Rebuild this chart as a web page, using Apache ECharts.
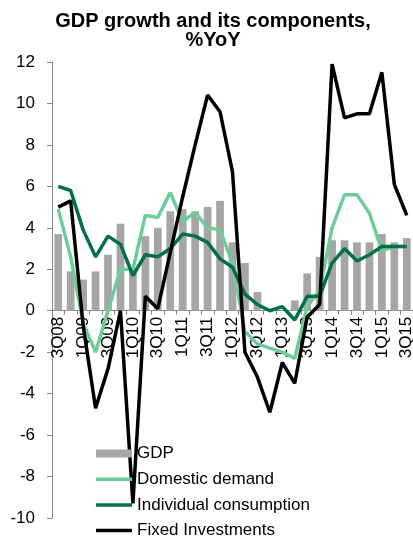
<!DOCTYPE html>
<html>
<head>
<meta charset="utf-8">
<script src="https://cdn.jsdelivr.net/npm/echarts@6.0.0/dist/echarts.min.js"></script>
<style>
  html, body { margin: 0; padding: 0; background: #fff; }
  #chart { width: 413px; height: 538px; }
</style>
</head>
<body>
<div id="chart"></div>
<script>
// quarters, 3Q08 .. 3Q15
const quarters = ['3Q08', '4Q08', '1Q09', '2Q09', '3Q09', '4Q09', '1Q10', '2Q10', '3Q10', '4Q10',
  '1Q11', '2Q11', '3Q11', '4Q11', '1Q12', '2Q12', '3Q12', '4Q12', '1Q13', '2Q13',
  '3Q13', '4Q13', '1Q14', '2Q14', '3Q14', '4Q14', '1Q15', '2Q15', '3Q15'];

// %YoY
const gdp = [3.7, 1.9, 1.5, 1.9, 2.7, 4.2, 2.0, 3.6, 4.0, 4.8,
  4.9, 4.8, 5.0, 5.3, 3.3, 2.3, 0.9, 0.0, 0.0, 0.5,
  1.8, 2.6, 3.4, 3.4, 3.3, 3.3, 3.7, 3.3, 3.5];
const domesticDemand = [4.9, 2.6, -0.6, -2.0, 0.0, 2.0, 2.0, 4.6, 4.5, 5.7,
  4.3, 4.75, 4.0, 3.9, 2.3, -1.0, -1.6, -1.8, -2.0, -2.3,
  0.2, 1.0, 4.0, 5.6, 5.6, 4.7, 2.9, 3.1, 3.1];
const consumption = [6.0, 5.8, 3.9, 2.6, 3.6, 3.2, 1.7, 2.7, 2.6, 3.0,
  3.7, 3.6, 3.3, 2.5, 2.1, 0.8, 0.3, 0.0, 0.2, -0.45,
  0.7, 0.7, 2.3, 3.0, 2.4, 2.7, 3.1, 3.1, 3.1];
const investment = [5.0, 5.3, -0.7, -4.7, -2.8, 0.0, -9.3, 0.7, 0.1, 2.8,
  5.5, 8.0, 10.4, 9.6, 6.7, -2.0, -3.2, -4.9, -2.5, -3.5,
  -0.3, 0.3, 11.9, 9.3, 9.5, 9.5, 11.5, 6.1, 4.6];

const yMin = -10;
const yMax = 12;

const FONT = '"Liberation Sans", Arial, sans-serif';
const AXIS_GREY = '#868686';
const LINE_ICON = 'path://M0,0L36,0L36,3.5L0,3.5Z';

const GRID_TOP = 62;
const GRID_BOTTOM = 20;
const CHART_H = 538;

// the category axis sits on y = 0; v6 leaves the labels at the grid edge
// with onZero, so shift the whole axis up instead
const plotH = CHART_H - GRID_TOP - GRID_BOTTOM;
const zeroShift = -plotH * (0 - yMin) / (yMax - yMin);

const chart = echarts.init(document.getElementById('chart'));

const line = (name, data, color) => ({
  name,
  type: 'line',
  data,
  symbol: 'none',
  lineStyle: { color, width: 3.5 },
  itemStyle: { color },
});

chart.setOption({
  animation: false,
  textStyle: { fontFamily: FONT },
  title: {
    text: 'GDP growth and its components,\n%YoY',
    left: 208,
    textAlign: 'center',
    top: 7,
    textStyle: { fontSize: 20, lineHeight: 19, fontWeight: 'bold', color: '#000', fontFamily: FONT },
  },
  legend: {
    orient: 'vertical',
    left: 96,
    top: 445,
    height: 120,
    padding: 0,
    itemGap: 8.7,
    itemWidth: 36,
    itemHeight: 8,
    textStyle: { fontSize: 17, color: '#000', fontFamily: FONT },
    data: [
      { name: 'GDP', icon: 'rect' },
      { name: 'Domestic demand', icon: LINE_ICON },
      { name: 'Individual consumption', icon: LINE_ICON },
      { name: 'Fixed Investments', icon: LINE_ICON },
    ],
  },
  grid: { left: 52, right: 0, top: GRID_TOP, bottom: GRID_BOTTOM, outerBoundsMode: 'none' },
  xAxis: {
    type: 'category',
    data: quarters,
    offset: zeroShift,
    axisLine: { onZero: false, lineStyle: { color: AXIS_GREY, width: 1 } },
    axisTick: { show: true, interval: 0, length: 4, lineStyle: { color: AXIS_GREY } },
    axisLabel: { interval: 1, rotate: 90, fontSize: 17, color: '#000', margin: 6 },
  },
  yAxis: {
    type: 'value',
    min: yMin,
    max: yMax,
    interval: 2,
    splitLine: { show: false },
    axisLine: { show: true, lineStyle: { color: AXIS_GREY, width: 1 } },
    axisTick: { show: true, length: 5, lineStyle: { color: AXIS_GREY } },
    axisLabel: { fontSize: 17, color: '#000', margin: 17 },
  },
  series: [
    {
      name: 'GDP',
      type: 'bar',
      data: gdp,
      barCategoryGap: '38%',
      itemStyle: { color: '#a6a6a6' },
    },
    line('Domestic demand', domesticDemand, '#6dcc98'),
    line('Individual consumption', consumption, '#00704a'),
    line('Fixed Investments', investment, '#000000'),
  ],
});
</script>
</body>
</html>
